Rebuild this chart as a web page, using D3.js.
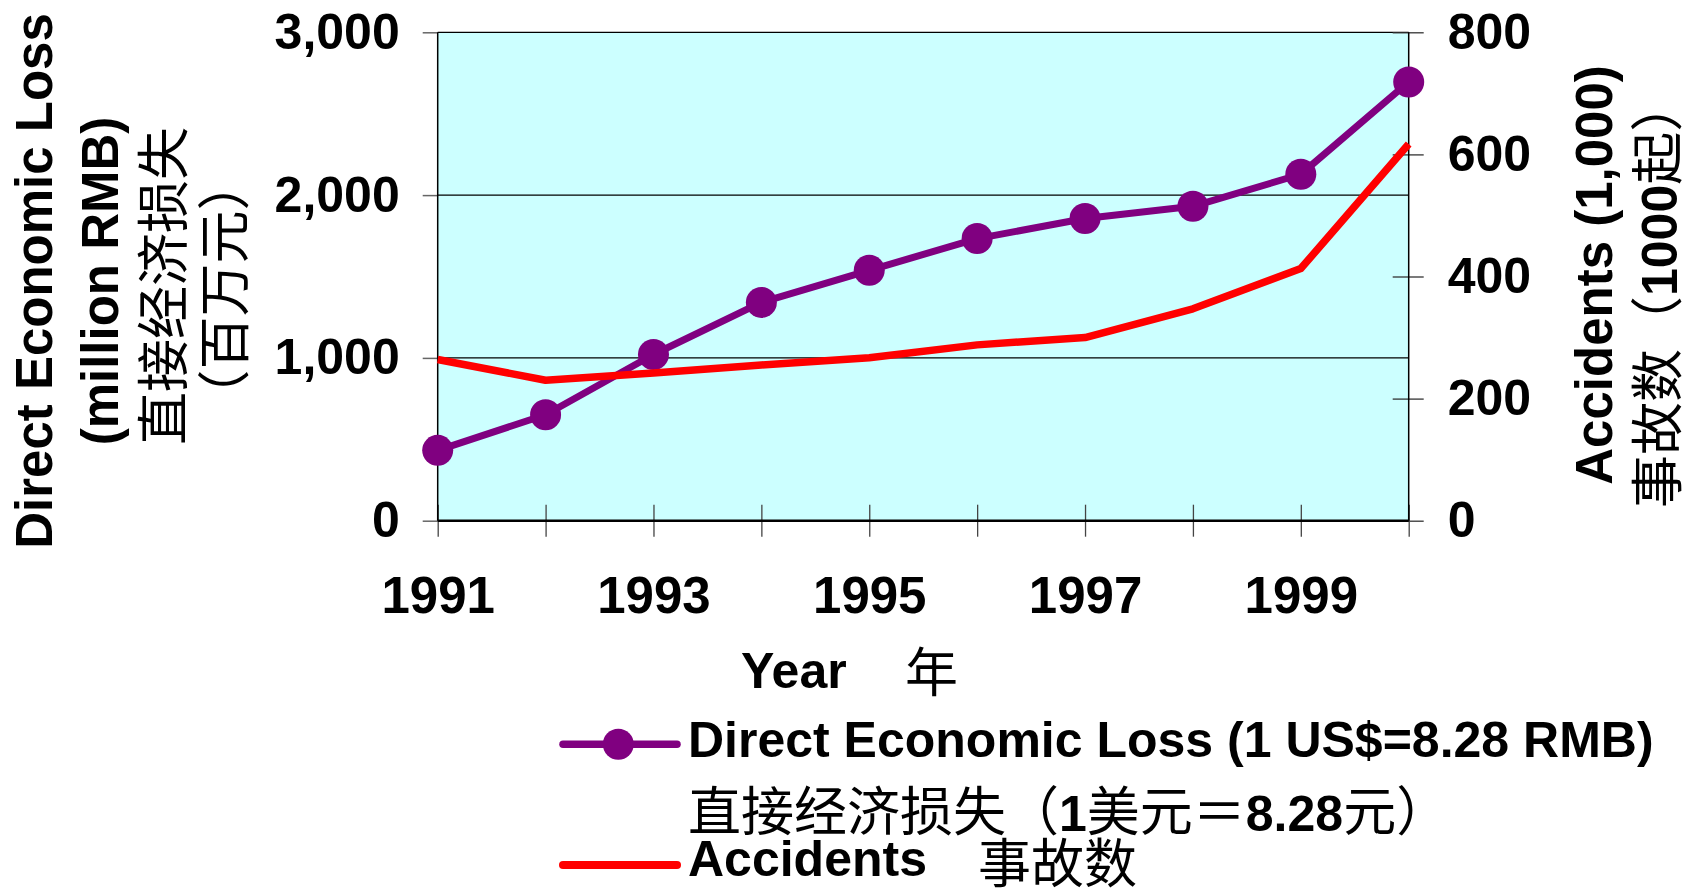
<!DOCTYPE html>
<html lang="en">

<head>
    <meta charset="UTF-8">
    <meta name="viewport" content="width=device-width, initial-scale=1.0">
    <title>Direct Economic Loss / Accidents</title>

    <style>
        body {
            margin: 0;
            background: #fff;
        }

        .lat {
            font-family: "Liberation Sans", Arial, sans-serif;
            font-weight: bold;
        }

        .cjk {
            font-family: "Noto Sans CJK SC", sans-serif;
            font-weight: normal;
        }

        .axis text {
            font-family: "Liberation Sans", Arial, sans-serif;
            font-weight: bold;
            fill: #000;
        }

        .axis path {
            display: none;
        }
    </style>
    <script src="https://d3js.org/d3.v7.min.js"></script>
</head>

<body>
    <svg width="1694" height="889"></svg>

    <script>
        // data
        var years = [1991, 1992, 1993, 1994, 1995, 1996, 1997, 1998, 1999, 2000];
        var lossValues = [432, 651, 1021, 1341, 1538, 1733, 1856, 1931, 2128, 2695];   // million RMB
        var accidentValues = [264, 230, 242, 255, 267, 288, 300, 347, 413, 617];      // 1000 accidents
        var lossTicks = [0, 1000, 2000, 3000];
        var accidentTicks = [0, 200, 400, 600, 800];
        var yearLabels = [1991, 1993, 1995, 1997, 1999];

        var svg = d3.select("svg"),
            width = +svg.attr("width"),
            height = +svg.attr("height");

        // plot area (note: "top" is taken by window.top)
        var pLeft = 437.7, pRight = 1408.7, pTop = 32.3, pBottom = 520.7;

        var x = d3.scalePoint().domain(years).range([pLeft, pRight]);
        var yL = d3.scaleLinear().domain([0, 3000]).range([pBottom, pTop]);
        var yR = d3.scaleLinear().domain([0, 800]).range([pBottom, pTop]);

        // plot background
        svg.append("rect")
            .attr("x", pLeft).attr("y", pTop)
            .attr("width", pRight - pLeft).attr("height", pBottom - pTop)
            .attr("fill", "#ccffff");

        // gridlines
        svg.append("g")
            .selectAll("line")
            .data(lossTicks.filter(function (d) { return d > 0; }))
            .enter().append("line")
            .attr("x1", pLeft).attr("x2", pRight)
            .attr("y1", function (d) { return yL(d); })
            .attr("y2", function (d) { return yL(d); })
            .attr("stroke", "#000")
            .attr("stroke-width", 1.2);

        // left axis
        var gL = svg.append("g")
            .attr("class", "axis")
            .attr("transform", "translate(" + pLeft + ",0)")
            .call(d3.axisLeft(yL).tickValues(lossTicks).tickSize(15).tickPadding(23).tickFormat(d3.format(",")));
        gL.selectAll("text").style("font-size", "50px");
        gL.selectAll(".tick line").attr("stroke", "#666").attr("stroke-width", 1.5);

        // right axis, ticks cross the line
        var gR = svg.append("g")
            .attr("class", "axis")
            .attr("transform", "translate(" + pRight + ",0)")
            .call(d3.axisRight(yR).tickValues(accidentTicks).tickSize(15).tickPadding(24));
        gR.selectAll("text").style("font-size", "50px").attr("x", 39);
        gR.selectAll(".tick line").attr("x1", -16).attr("stroke", "#333").attr("stroke-width", 1.3);

        // x axis
        var gX = svg.append("g")
            .attr("class", "axis")
            .attr("transform", "translate(0," + pBottom + ")")
            .call(d3.axisBottom(x).tickSize(16).tickPadding(40)
                .tickFormat(function (d) { return yearLabels.indexOf(d) >= 0 ? d : ""; }));
        gX.selectAll("text").style("font-size", "51px");
        gX.selectAll(".tick line").attr("y1", -16).attr("stroke", "#444").attr("stroke-width", 1.3);

        // frame lines
        svg.append("line").attr("x1", pLeft).attr("x2", pLeft).attr("y1", pTop).attr("y2", pBottom)
            .attr("stroke", "#000").attr("stroke-width", 1.5);
        svg.append("line").attr("x1", pRight).attr("x2", pRight).attr("y1", pTop).attr("y2", pBottom)
            .attr("stroke", "#000").attr("stroke-width", 1.5);
        svg.append("line").attr("x1", pLeft).attr("x2", pRight).attr("y1", pBottom).attr("y2", pBottom)
            .attr("stroke", "#000").attr("stroke-width", 2.5);

        // series
        var lossLine = d3.line()
            .x(function (d, i) { return x(years[i]); })
            .y(function (d) { return yL(d); });
        var accLine = d3.line()
            .x(function (d, i) { return x(years[i]); })
            .y(function (d) { return yR(d); });

        svg.append("path")
            .datum(lossValues)
            .attr("d", lossLine)
            .attr("fill", "none")
            .attr("stroke", "#800080")
            .attr("stroke-width", 7)
            .attr("stroke-linejoin", "round");

        svg.append("g")
            .selectAll("circle")
            .data(lossValues)
            .enter().append("circle")
            .attr("cx", function (d, i) { return x(years[i]); })
            .attr("cy", function (d) { return yL(d); })
            .attr("r", 15.5)
            .attr("fill", "#800080");

        svg.append("path")
            .datum(accidentValues)
            .attr("d", accLine)
            .attr("fill", "none")
            .attr("stroke", "#ff0000")
            .attr("stroke-width", 7.5)
            .attr("stroke-linejoin", "round");

        // axis titles
        function rotText(tx, ty, cls, size, anchor, str) {
            return svg.append("text")
                .attr("class", cls)
                .attr("transform", "translate(" + tx + "," + ty + ") rotate(-90)")
                .attr("text-anchor", anchor)
                .style("font-size", size + "px")
                .text(str);
        }
        rotText(52, 281, "lat", 51, "middle", "Direct Economic Loss");
        rotText(118, 281, "lat", 51, "middle", "(million RMB)");
        rotText(183, 286, "cjk", 53, "middle", "直接经济损失");
        rotText(244, 290, "cjk", 53, "middle", "（百万元）");

        rotText(1612, 275, "lat", 51, "middle", "Accidents (1,000)");
        var r2 = svg.append("text")
            .attr("transform", "translate(1677,508) rotate(-90)")
            .attr("text-anchor", "start");
        r2.append("tspan").attr("class", "cjk").style("font-size", "53px").text("事故数（");
        r2.append("tspan").attr("class", "lat").style("font-size", "50px").text("1000");
        r2.append("tspan").attr("class", "cjk").style("font-size", "53px").text("起）");

        svg.append("text").attr("class", "lat").attr("x", 741).attr("y", 688)
            .style("font-size", "50px").text("Year");
        svg.append("text").attr("class", "cjk").attr("x", 905).attr("y", 692)
            .style("font-size", "53px").text("年");

        // legend
        svg.append("line").attr("x1", 563).attr("x2", 677).attr("y1", 744.3).attr("y2", 744.3)
            .attr("stroke", "#800080").attr("stroke-width", 7.5).attr("stroke-linecap", "round");
        svg.append("circle").attr("cx", 618.3).attr("cy", 744.3).attr("r", 15.5).attr("fill", "#800080");
        svg.append("text").attr("class", "lat").attr("x", 688).attr("y", 757)
            .style("font-size", "50px").text("Direct Economic Loss (1 US$=8.28 RMB)");

        var l2 = svg.append("text").attr("x", 688).attr("y", 831);
        l2.append("tspan").attr("class", "cjk").style("font-size", "53px").text("直接经济损失（");
        l2.append("tspan").attr("class", "lat").style("font-size", "50px").text("1");
        l2.append("tspan").attr("class", "cjk").style("font-size", "53px").text("美元＝");
        l2.append("tspan").attr("class", "lat").style("font-size", "50px").text("8.28");
        l2.append("tspan").attr("class", "cjk").style("font-size", "53px").text("元）");

        svg.append("line").attr("x1", 563).attr("x2", 677).attr("y1", 865).attr("y2", 865)
            .attr("stroke", "#ff0000").attr("stroke-width", 8).attr("stroke-linecap", "round");
        svg.append("text").attr("class", "lat").attr("x", 688).attr("y", 876)
            .style("font-size", "50px").text("Accidents");
        svg.append("text").attr("class", "cjk").attr("x", 978).attr("y", 883)
            .style("font-size", "53px").text("事故数");
    </script>
</body>

</html>
